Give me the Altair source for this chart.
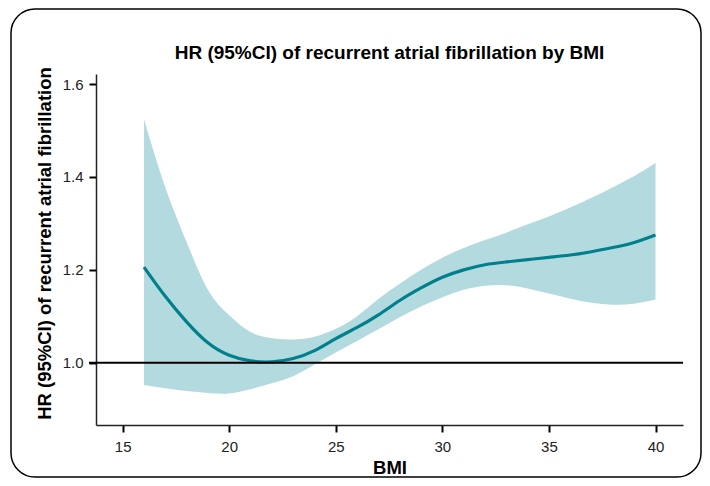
import altair as alt
import pandas as pd

# ---- data ----
bmi = [16, 17, 18, 19, 20, 21, 22, 23, 24, 25, 26, 27, 28,
       29, 30, 31, 32, 33, 34, 35, 36, 37, 38, 39, 40]
hr = [1.206, 1.143, 1.088, 1.043, 1.016, 1.004, 1.002, 1.009, 1.026, 1.052,
      1.076, 1.103, 1.134, 1.161, 1.184, 1.200, 1.211, 1.217, 1.222, 1.227,
      1.232, 1.239, 1.248, 1.259, 1.275]
upper = [1.524, 1.378, 1.260, 1.157, 1.102, 1.066, 1.053, 1.050, 1.056, 1.073,
         1.100, 1.137, 1.170, 1.200, 1.226, 1.247, 1.264, 1.280, 1.298, 1.315,
         1.334, 1.355, 1.378, 1.402, 1.430]
lower = [0.952, 0.945, 0.939, 0.935, 0.934, 0.943, 0.956, 0.971, 0.996, 1.022,
         1.047, 1.072, 1.098, 1.121, 1.141, 1.157, 1.166, 1.167, 1.160, 1.149,
         1.138, 1.129, 1.125, 1.127, 1.136]
x_ticks = [15, 20, 25, 30, 35, 40]
y_ticks = [1.0, 1.2, 1.4, 1.6]
ref_value = [1.0]

title_text = ["HR (95%CI) of recurrent atrial fibrillation by BMI"]
y_title = "HR (95%CI) of recurrent atrial fibrillation"
x_title = "BMI"

df = pd.DataFrame({"BMI": bmi, "HR": hr, "upper": upper, "lower": lower})
ref_df = pd.DataFrame({"v": ref_value})
title_df = pd.DataFrame({"t": title_text})

FONT = "Liberation Sans"
W, H = 587, 351
TOTAL_W, TOTAL_H = 694, 470
PAD_L, PAD_T = 88, 66

x_scale = alt.Scale(domain=[13.75, 41.29], nice=False, zero=False)
y_scale = alt.Scale(domain=[0.866, 1.6216], nice=False, zero=False)

x_enc = alt.X("BMI:Q", scale=x_scale,
              axis=alt.Axis(values=x_ticks, title=x_title, format="d"))
y_axis = alt.Axis(values=y_ticks, title=y_title, format=".1f", titleY=169)

band = alt.Chart(df).mark_area(color="#b3dbdf", opacity=1,
                               interpolate="natural").encode(
    x=x_enc,
    y=alt.Y("upper:Q", scale=y_scale, axis=y_axis),
    y2="lower:Q",
)

line = alt.Chart(df).mark_line(color="#00808c", strokeWidth=3.2,
                               interpolate="natural").encode(
    x=alt.X("BMI:Q", scale=x_scale),
    y=alt.Y("HR:Q", scale=y_scale),
)

ref = alt.Chart(ref_df).mark_rule(color="#000000", strokeWidth=2).encode(
    y=alt.Y("v:Q", scale=y_scale),
    x=alt.value(-7),
    x2=alt.value(W),
)

title = alt.Chart(title_df).mark_text(
    font=FONT, fontSize=19, fontWeight="bold", color="#000000",
    align="center", baseline="alphabetic"
).encode(
    text="t:N",
    x=alt.value(W / 2),
    y=alt.value(-15),
)

frame = alt.Chart(pd.DataFrame({"k": [0]})).mark_rect(
    fill="transparent", stroke="#000000", strokeWidth=1.5, cornerRadius=24
).encode(
    x=alt.value(-85), x2=alt.value(605),
    y=alt.value(-65), y2=alt.value(403),
)

chart = alt.layer(band, line, ref, title, frame).properties(
    width=W,
    height=H,
    autosize=alt.AutoSizeParams(type="none"),
    padding={"left": PAD_L, "top": PAD_T,
             "right": TOTAL_W - PAD_L - W, "bottom": TOTAL_H - PAD_T - H},
).configure_view(stroke=None).configure_axis(
    grid=False,
    labelFont=FONT, labelFontSize=15, labelColor="#222222",
    titleFont=FONT, titleFontSize=18.5, titleFontWeight="bold", titleColor="#000000",
    domainColor="#222222", domainWidth=1.5,
    tickColor="#000000", tickWidth=2, tickSize=7,
).configure_axisX(labelPadding=7, titlePadding=4).configure_axisY(
    labelPadding=6, titlePadding=8)

chart.save("out.html", embed_options={"renderer": "svg", "actions": False})
